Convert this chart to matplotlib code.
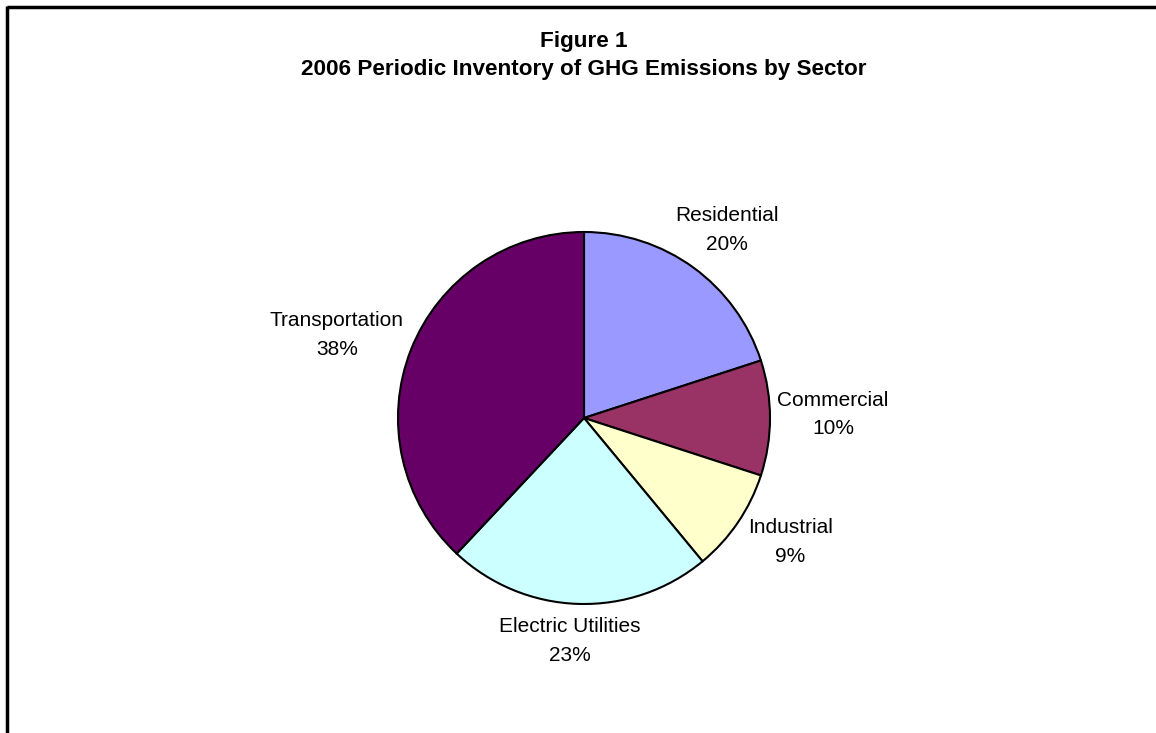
import matplotlib
matplotlib.use("Agg")
import matplotlib.pyplot as plt
from matplotlib.lines import Line2D

plt.rcParams['font.family'] = ['Liberation Sans', 'DejaVu Sans']

# Data
sectors = ["Residential", "Commercial", "Industrial", "Electric Utilities", "Transportation"]
shares = [20, 10, 9, 23, 38]
colors = ["#9999FF", "#993366", "#FFFFCC", "#CCFFFF", "#660066"]
title_line1 = "Figure 1"
title_line2 = "2006 Periodic Inventory of GHG Emissions by Sector"

# Label placement (layout, in units of pie radius)
label_pos = [(0.769, 1.011), (1.339, 0.019), (1.108, -0.667), (-0.075, -1.199), (-1.328, 0.446)]

W, H = 1156, 733
fig = plt.figure(figsize=(W / 100, H / 100), dpi=100)
fig.patch.set_facecolor("white")

cx, cy, r = 584, 418, 186
ax = fig.add_axes([(cx - r) / W, (H - cy - r) / H, 2 * r / W, 2 * r / H])
wedges, _ = ax.pie(shares, colors=colors, startangle=90, counterclock=False,
                   radius=1.0, wedgeprops=dict(edgecolor="black", linewidth=1.5))
ax.set_xlim(-1, 1)
ax.set_ylim(-1, 1)
ax.set_aspect("equal")
ax.axis("off")

for name, val, (lx, ly) in zip(sectors, shares, label_pos):
    ax.text(lx, ly, f"{name}\n{val}%", ha="center", va="center",
            fontsize=15, linespacing=1.66, color="black", clip_on=False)

fig.text(584 / W, 1 - 41 / H, title_line1, ha="center", va="center",
         fontsize=16.2, fontweight="bold", fontstretch="normal")
fig.text(584 / W, 1 - 70 / H, title_line2, ha="center", va="center",
         fontsize=16.2, fontweight="bold", fontstretch="normal")

# Border (top and left)
fig.add_artist(Line2D([7 / W, 1.0], [1 - 7 / H, 1 - 7 / H], transform=fig.transFigure,
                      color="black", linewidth=2.5, solid_capstyle="butt"))
fig.add_artist(Line2D([7 / W, 7 / W], [0.0, 1 - 5.8 / H], transform=fig.transFigure,
                      color="black", linewidth=2.5, solid_capstyle="butt"))

fig.savefig("out.png", dpi=100, facecolor="white")
